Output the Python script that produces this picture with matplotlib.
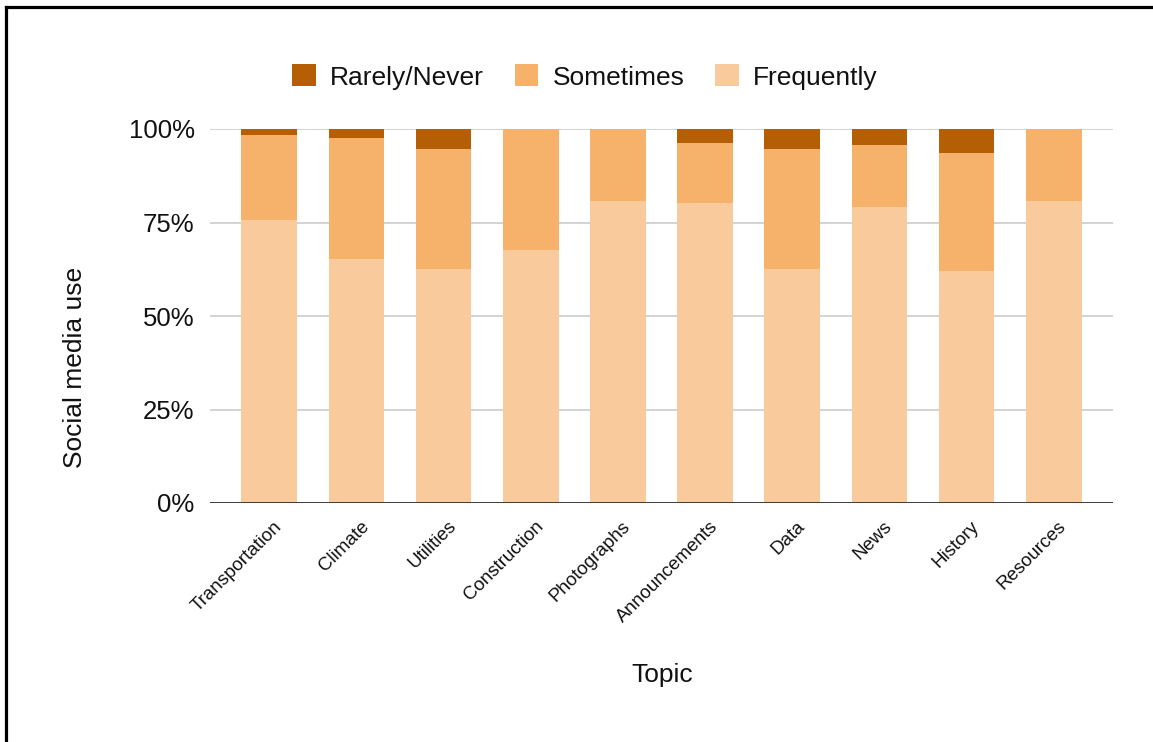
import numpy as np
import matplotlib.pyplot as plt
from matplotlib.lines import Line2D
from matplotlib.ticker import FuncFormatter
import matplotlib.transforms as mtransforms

plt.rcParams['font.family'] = ['Liberation Sans', 'DejaVu Sans']

# Share of responses per topic (%)
topics = ['Transportation', 'Climate', 'Utilities', 'Construction', 'Photographs',
          'Announcements', 'Data', 'News', 'History', 'Resources']
frequently = [75.7, 65.2, 62.6, 67.6, 80.7, 80.2, 62.6, 79.1, 62.0, 80.7]
sometimes = [22.7, 32.5, 32.1, 32.4, 19.3, 16.0, 32.1, 16.6, 31.7, 19.3]
rarely = [1.6, 2.3, 5.3, 0.0, 0.0, 3.8, 5.3, 4.3, 6.3, 0.0]

c_rare = '#b45f06'
c_some = '#f6b26b'
c_freq = '#f9cb9c'
txt = '#111111'

W, H = 1153, 742
fig = plt.figure(figsize=(W / 100, H / 100), dpi=100)
ax = fig.add_axes([210 / W, 1 - 503 / H, (1113 - 210) / W, (503 - 129) / H])

x = np.arange(len(topics))
bw = 0.64
freq = np.array(frequently)
some = np.array(sometimes)
rare = np.array(rarely)

ax.bar(x, freq, bw, color=c_freq, label='Frequently', zorder=2)
ax.bar(x, some, bw, bottom=freq, color=c_some, label='Sometimes', zorder=2)
ax.bar(x, rare, bw, bottom=freq + some, color=c_rare, label='Rarely/Never', zorder=2)

ax.set_xlim(-0.68, len(topics) - 1 + 0.68)
ax.set_ylim(0, 100)
ax.set_yticks([0, 25, 50, 75, 100])
ax.yaxis.set_major_formatter(FuncFormatter(lambda v, p: f'{v:.0f}%'))
ax.grid(axis='y', color='#cccccc', linewidth=1.2, zorder=0)
ax.axhline(0, color='#333333', linewidth=1.3, zorder=3)

for s in ax.spines.values():
    s.set_visible(False)
ax.tick_params(axis='y', length=0, pad=11, labelsize=18.5, labelcolor=txt)
ax.tick_params(axis='x', length=0, pad=15)

ax.set_xticks(x)
ax.set_xticklabels(topics, rotation=45, ha='right', va='center',
                   rotation_mode='anchor', fontsize=13.5, color=txt)
shift = mtransforms.ScaledTranslation(10 / 100, 0, fig.dpi_scale_trans)
for lab in ax.get_xticklabels():
    lab.set_transform(lab.get_transform() + shift)

ax.set_xlabel('Topic', fontsize=19, color=txt, va='center')
ax.xaxis.set_label_coords(662 / W, 1 - 675 / H, transform=fig.transFigure)
ax.set_ylabel('Social media use', fontsize=19, color=txt, va='center')
ax.yaxis.set_label_coords(75 / W, 1 - 367 / H, transform=fig.transFigure)

handles, labels = ax.get_legend_handles_labels()
leg = fig.legend(handles[::-1], labels[::-1], loc='center',
                 bbox_to_anchor=(585 / W, 1 - 77 / H), ncol=3, frameon=False,
                 fontsize=19, handlelength=0.9, handleheight=0.9,
                 handletextpad=0.55, columnspacing=1.15)
for t in leg.get_texts():
    t.set_color(txt)

# frame lines along the top and left edges
fig.add_artist(Line2D([6 / W, 1], [1 - 7 / H, 1 - 7 / H], color='black',
                      linewidth=2.3, transform=fig.transFigure))
fig.add_artist(Line2D([6 / W, 6 / W], [0, 1 - 7 / H], color='black',
                      linewidth=2.3, transform=fig.transFigure))

fig.savefig('out.png', dpi=100, facecolor='white')
